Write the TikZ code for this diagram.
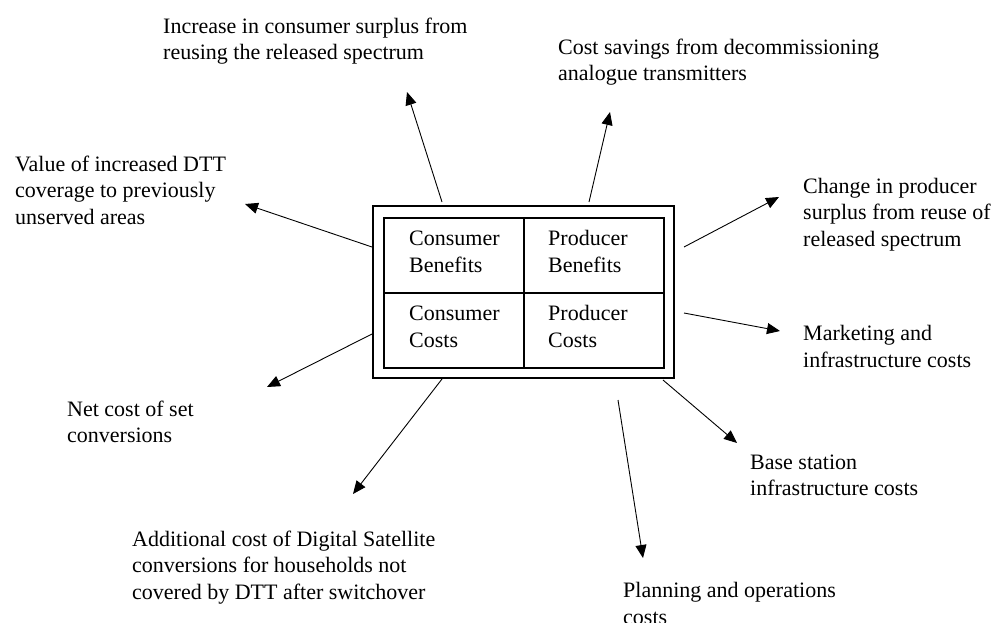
\documentclass[tikz,border=0pt]{standalone}
\usepackage{fontspec}
\setmainfont{Liberation Serif}
\usetikzlibrary{arrows.meta}
\begin{document}
\begin{tikzpicture}[x=1pt,y=-1pt,
  lbl/.style={anchor=north west,inner sep=0pt,align=left,font=\fontsize{22}{26.5}\selectfont},
  cell/.style={anchor=north west,inner sep=0pt,align=left,font=\fontsize{22}{27}\selectfont},
  frame/.style={draw,line width=1.6pt},
  arr/.style={line width=0.9pt,-{Triangle[length=13pt,width=11pt]}}]
\useasboundingbox (0,0) rectangle (996,622);
% box
\draw[frame] (373,206) rectangle (674,378);
\draw[frame] (384,218) rectangle (664,368);
\draw[line width=1.4pt] (524,218) -- (524,368);
\draw[line width=1.4pt] (384,293) -- (664,293);
\node[cell] (cb) at (409,230.5) {Consumer\\Benefits};
\node[cell] (pb) at (548,230.5) {Producer\\Benefits};
\node[cell] (cc) at (409,305.5) {Consumer\\Costs};
\node[cell] (pc) at (548,305.5) {Producer\\Costs};
% labels
\node[lbl] (t1) at (163,17.5) {Increase in consumer surplus from\\reusing the released spectrum};
\node[lbl] (t2) at (15,155.5) {Value of increased DTT\\coverage to previously\\unserved areas};
\node[lbl] (t3) at (558,38.5) {Cost savings from decommissioning\\analogue transmitters};
\node[lbl] (t4) at (803,178) {Change in producer\\surplus from reuse of\\released spectrum};
\node[lbl] (t5) at (803,325.5) {Marketing and\\infrastructure costs};
\node[lbl] (t6) at (750,454.5) {Base station\\infrastructure costs};
\node[lbl] (t7) at (623,582.5) {Planning and operations\\costs};
\node[lbl] (t8) at (67,400.5) {Net cost of set\\conversions};
\node[lbl] (t9) at (132,530.5) {Additional cost of Digital Satellite\\conversions for households not\\covered by DTT after switchover};
% arrow ends
\coordinate (s1) at (442,202); \coordinate (e1) at (407,92);
\coordinate (s2) at (589,202); \coordinate (e2) at (610,112);
\coordinate (s3) at (372,247); \coordinate (e3) at (245,204);
\coordinate (s4) at (684,247); \coordinate (e4) at (779,197);
\coordinate (s5) at (684,313); \coordinate (e5) at (780,331);
\coordinate (s6) at (663,380); \coordinate (e6) at (737,443);
\coordinate (s7) at (618,400); \coordinate (e7) at (643,558);
\coordinate (s8) at (372,334); \coordinate (e8) at (267,387);
\coordinate (s9) at (442,379); \coordinate (e9) at (353,494);
\foreach \i in {1,...,9} {\draw[arr] (s\i) -- (e\i);}
\end{tikzpicture}
\end{document}
